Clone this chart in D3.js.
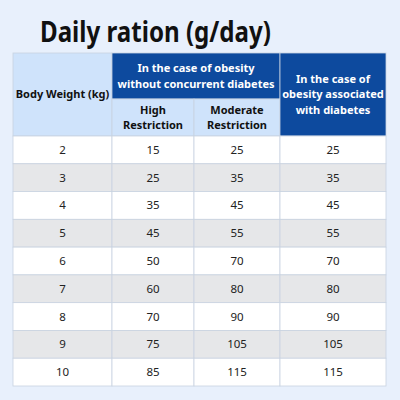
<!DOCTYPE html>
<html><head><meta charset="utf-8">
<script src="https://cdn.jsdelivr.net/npm/d3@7"></script>
<style>body{margin:0;background:#e8f0fc}</style></head>
<body><div id="chart"></div>
<script>
const weights = [2, 3, 4, 5, 6, 7, 8, 9, 10];
const highRestriction = [15, 25, 35, 45, 50, 60, 70, 75, 85];
const moderateRestriction = [25, 35, 45, 55, 70, 80, 90, 105, 115];
const withDiabetes = [25, 35, 45, 55, 70, 80, 90, 105, 115];
const colEdges = [13, 112, 194, 280, 386];

const W = 400, H = 400;
const DARK = '#0d4a9e', LIGHT = '#cfe3fb', GRAY = '#e6e7e9', LINE = '#c9d3e0';
const TOP = 53, MID = 99, HEAD = 136, BOTTOM = 386;

var svg = d3.select('#chart').append('svg').attr('width', W).attr('height', H)
    .style('font-family', '"Noto Sans", sans-serif');

svg.append('rect').attr('width', W).attr('height', H).attr('fill', '#e8f0fc');

svg.append('text').attr('x', 40).attr('y', 42)
    .attr('font-size', 28).attr('font-weight', 'bold').attr('fill', '#111')
    .attr('textLength', 231).attr('lengthAdjust', 'spacingAndGlyphs')
    .text('Daily ration (g/day)');

var yScale = d3.scaleBand().domain(d3.range(weights.length)).range([HEAD, BOTTOM]);
var rows = weights.map(function (w, i) {
    return [w, highRestriction[i], moderateRestriction[i], withDiabetes[i]];
});

var cell = function (x0, x1, y0, y1, fill, lines, color, weight, size) {
    svg.append('rect').attr('x', x0).attr('y', y0).attr('width', x1 - x0).attr('height', y1 - y0)
        .attr('fill', fill).attr('stroke', LINE).attr('stroke-width', 0.8);
    var lh = size * 1.4;
    var cy = (y0 + y1) / 2 - (lines.length - 1) * lh / 2;
    lines.forEach(function (t, k) {
        svg.append('text').attr('x', (x0 + x1) / 2).attr('y', cy + k * lh)
            .attr('dy', '0.35em').attr('text-anchor', 'middle')
            .attr('font-size', size).attr('font-weight', weight).attr('fill', color)
            .text(t);
    });
};

// header
cell(colEdges[0], colEdges[1], TOP, HEAD, LIGHT, ['Body Weight (kg)'], '#111', 'bold', 11);
cell(colEdges[1], colEdges[3], TOP, MID, DARK, ['In the case of obesity', 'without concurrent diabetes'], '#fff', 'bold', 11);
cell(colEdges[1], colEdges[2], MID, HEAD, LIGHT, ['High', 'Restriction'], '#111', 'bold', 11);
cell(colEdges[2], colEdges[3], MID, HEAD, LIGHT, ['Moderate', 'Restriction'], '#111', 'bold', 11);
cell(colEdges[3], colEdges[4], TOP, HEAD, DARK, ['In the case of', 'obesity associated', 'with diabetes'], '#fff', 'bold', 11);

// body
rows.forEach(function (r, i) {
    var y0 = yScale(i), y1 = y0 + yScale.bandwidth();
    r.forEach(function (v, j) {
        cell(colEdges[j], colEdges[j + 1], y0, y1, i % 2 ? GRAY : '#fff', [String(v)], '#222', 'normal', 11.5);
    });
});
</script></body></html>
